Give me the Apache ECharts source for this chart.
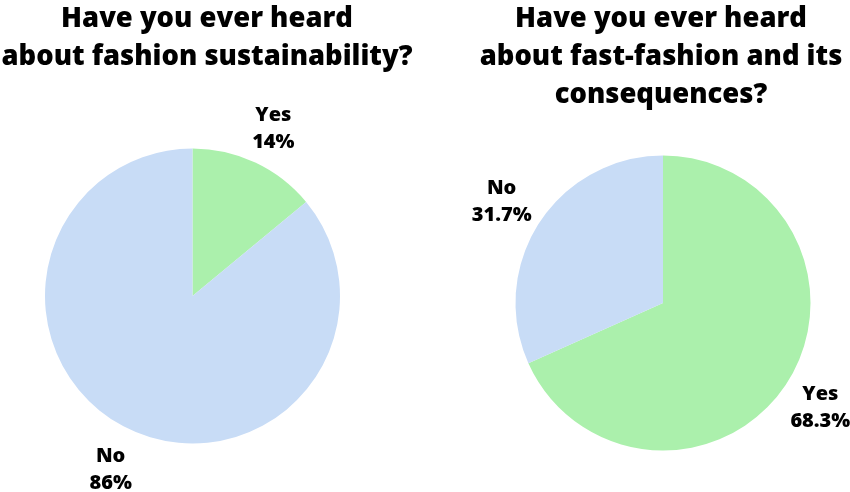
<!DOCTYPE html>
<html><head><meta charset="utf-8">
<script src="https://cdn.jsdelivr.net/npm/echarts@6/dist/echarts.min.js"></script>
<style>html,body{margin:0;padding:0;background:#fff}#c{width:850px;height:492px}</style>
</head><body><div id="c"></div>
<script>
const titles = ['Have you ever heard\nabout fashion sustainability?', 'Have you ever heard\nabout fast-fashion and its\nconsequences?'];
const categories = ['Yes', 'No'];
const pie1Values = [14, 86];
const pie2Values = [68.3, 31.7];
const colors = ['#abf0ac', '#c8dcf6'];

const chart = echarts.init(document.getElementById('c'));
const font = '"Open Sans", sans-serif';
function pies(center, vals, nudges) {
  const data = categories.map((n, i) => ({ name: n, value: vals[i] }));
  const labelData = categories.map((n, i) => ({ name: n, value: vals[i], label: { offset: nudges[i] } }));
  return [
    { type: 'pie', center: center, radius: [0, 147.5], startAngle: 90, clockwise: true,
      silent: true, label: { show: false }, labelLine: { show: false },
      itemStyle: { borderWidth: 0 }, color: colors, data: data },
    { type: 'pie', center: center, radius: [147.5, 231], startAngle: 90, clockwise: true,
      silent: true, itemStyle: { color: 'transparent', borderWidth: 0 },
      label: { show: true, position: 'inside', formatter: '{b}\n{c}%', fontFamily: font,
        fontWeight: 800, fontSize: 20, lineHeight: 27, color: '#000' },
      labelLine: { show: false }, data: labelData }
  ];
}
chart.setOption({
  animation: false,
  title: [
    { text: titles[0], left: 207, top: 0, textAlign: 'center', padding: 0,
      textStyle: { fontFamily: font, fontWeight: 800, fontSize: 27.4, lineHeight: 38, color: '#000' } },
    { text: titles[1], left: 661, top: 0, textAlign: 'center', padding: 0,
      textStyle: { fontFamily: font, fontWeight: 800, fontSize: 27.4, lineHeight: 38, color: '#000' } }
  ],
  series: [].concat(
    pies([192.5, 296], pie1Values, [[-1, 7], [0, 0]]),
    pies([663, 303], pie2Values, [[-4, 0], [0, 3]]))
});
</script></body></html>
